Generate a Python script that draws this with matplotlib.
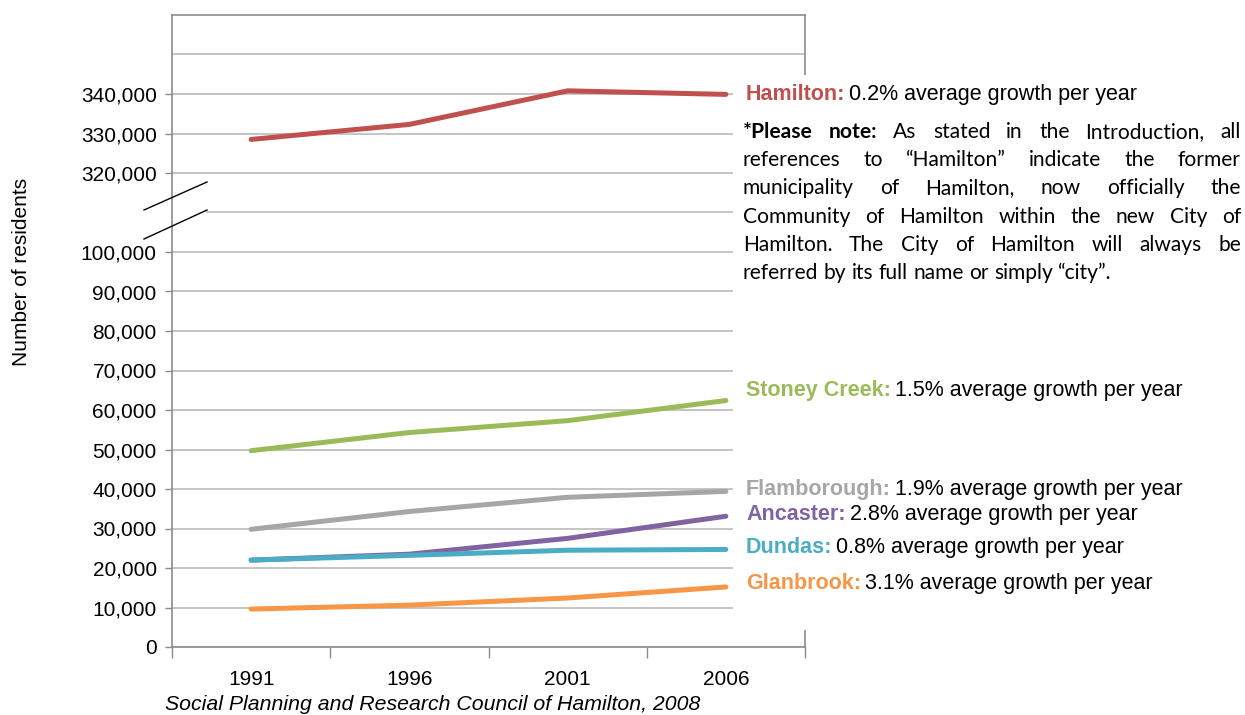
import matplotlib
matplotlib.use("Agg")
import matplotlib.pyplot as plt
from matplotlib.patches import Rectangle
from matplotlib.lines import Line2D

# ---------------- data ----------------
years = ["1991", "1996", "2001", "2006"]
hamilton = [328500, 332300, 340800, 339900]
stoney_creek = [49700, 54300, 57300, 62400]
flamborough = [29800, 34300, 37900, 39400]
ancaster = [22000, 23500, 27500, 33100]
dundas = [22000, 23200, 24500, 24700]
glanbrook = [9600, 10600, 12400, 15200]

series_names = ["Hamilton", "Stoney Creek", "Flamborough", "Ancaster", "Dundas", "Glanbrook"]
series_values = [hamilton, stoney_creek, flamborough, ancaster, dundas, glanbrook]
growth_rates = ["0.2%", "1.5%", "1.9%", "2.8%", "0.8%", "3.1%"]
colors = ["#C0504D", "#9BBB59", "#A6A6A6", "#8064A2", "#4BACC6", "#F79646"]

lower_ticks = [0, 10000, 20000, 30000, 40000, 50000, 60000, 70000, 80000, 90000, 100000]
upper_ticks = [320000, 330000, 340000]
BREAK_SHIFT = 200000  # values above the break are drawn shifted down by this

note_lines = [
    "*Please note: As stated in the Introduction, all",
    "references to \u201cHamilton\u201d indicate the former",
    "municipality of Hamilton, now officially the",
    "Community of Hamilton within the new City of",
    "Hamilton. The City of Hamilton will always be",
    "referred by its full name or simply \u201ccity\u201d.",
]


def to_axis(v):
    return v - BREAK_SHIFT if v > 200000 else v


# ---------------- figure ----------------
W, H = 1245, 715
fig = plt.figure(figsize=(W / 100, H / 100), dpi=100)


def fx(px):
    return px / W


def fy(py):
    return 1 - py / H


ax = fig.add_axes([fx(172), fy(647), fx(805) - fx(172), fy(15) - fy(647)])

GRID = "#C0C0C0"
SPINE = "#8C8C8C"
FONT = "Liberation Sans"
FS = 15
LFS = 15.5

x = list(range(len(years)))
for vals, c in zip(series_values, colors):
    ax.plot(x, [to_axis(v) for v in vals], color=c, lw=3.6,
            solid_capstyle="round", solid_joinstyle="round", zorder=3)

ax.set_xlim(-0.5, len(years) - 0.5)
ax.set_ylim(0, to_axis(360000))

yt = lower_ticks + [to_axis(v) for v in upper_ticks]
ylabels = [f"{v:,}" for v in lower_ticks + upper_ticks]
ax.set_yticks(yt)
ax.set_yticklabels(ylabels, fontfamily=FONT, fontsize=FS)
ax.yaxis.grid(True, color=GRID, lw=1.3, zorder=1)
ax.axhline(to_axis(350000), color=GRID, lw=1.3, zorder=1)
ax.axhline(110000, xmin=0.055, color=GRID, lw=1.3, zorder=1)
ax.tick_params(axis="y", length=5, width=1, color=SPINE, pad=6, labelcolor="black")

ax.set_xticks(x)
ax.set_xticklabels(years, fontfamily=FONT, fontsize=FS)
ax.set_xticks([i - 0.5 for i in range(len(years) + 1)], minor=True)
ax.tick_params(axis="x", which="major", length=0, pad=16.5)
ax.tick_params(axis="x", which="minor", length=8, width=1, color=SPINE)

for s in ax.spines.values():
    s.set_color(SPINE)
    s.set_linewidth(1.2)

# white box behind the labels on the right
fig.add_artist(Rectangle((fx(733), fy(630)), 1 - fx(733), fy(75) - fy(630),
                         transform=fig.transFigure, facecolor="white",
                         edgecolor="none", zorder=2))

# axis break marks
for (x0, y0, x1, y1) in [(144, 210, 207, 182), (144, 239, 207, 210)]:
    fig.add_artist(Line2D([fx(x0), fx(x1)], [fy(y0), fy(y1)],
                          transform=fig.transFigure, color="black", lw=1, zorder=5))

fig.text(fx(22), fy(272), "Number of residents", rotation=90, ha="center",
         va="center", fontfamily=FONT, fontsize=FS)
fig.text(fx(165), fy(710), "Social Planning and Research Council of Hamilton, 2008",
         ha="left", va="baseline", fontfamily=FONT, fontsize=15.3, style="italic")

renderer = fig.canvas.get_renderer()


def width_px(t):
    return t.get_window_extent(renderer).width


# series labels
label_baselines = [100, 396, 495, 520, 553, 589]
for name, rate, c, yb in zip(series_names, growth_rates, colors, label_baselines):
    t1 = fig.text(fx(746), fy(yb), name + ":", color=c, fontweight="bold",
                  fontfamily=FONT, fontsize=LFS, va="baseline", zorder=6)
    w = width_px(t1)
    fig.text(fx(746 + w + 4), fy(yb), f"{rate} average growth per year",
             color="black", fontfamily=FONT, fontsize=LFS, va="baseline", zorder=6)

# justified note
NOTE_FONT = "Lato"
probe = fig.text(0, 0, note_lines[-1], fontfamily=NOTE_FONT, fontsize=10)
note_fs = 10 * 370 / width_px(probe)
probe.remove()

NX0, NX1 = 743, 1241
note_baselines = [138, 166, 194, 223, 251, 279]
for li, (line, yb) in enumerate(zip(note_lines, note_baselines)):
    words = line.split(" ")
    texts = []
    for wi, wd in enumerate(words):
        bold = (li == 0 and wi < 2)
        t = fig.text(0, fy(yb), wd, fontfamily=NOTE_FONT, fontsize=note_fs,
                     fontweight="bold" if bold else "normal", va="baseline",
                     color="black", zorder=6)
        texts.append(t)
    widths = [width_px(t) for t in texts]
    if li < len(note_lines) - 1:
        gap = (NX1 - NX0 - sum(widths)) / (len(words) - 1)
    else:
        sp = fig.text(0, 0, "a a", fontfamily=NOTE_FONT, fontsize=note_fs)
        sp2 = fig.text(0, 0, "aa", fontfamily=NOTE_FONT, fontsize=note_fs)
        gap = width_px(sp) - width_px(sp2)
        sp.remove()
        sp2.remove()
    xpos = NX0
    for t, w in zip(texts, widths):
        t.set_x(fx(xpos))
        xpos += w + gap

fig.savefig("out.png", dpi=100, facecolor="white")
